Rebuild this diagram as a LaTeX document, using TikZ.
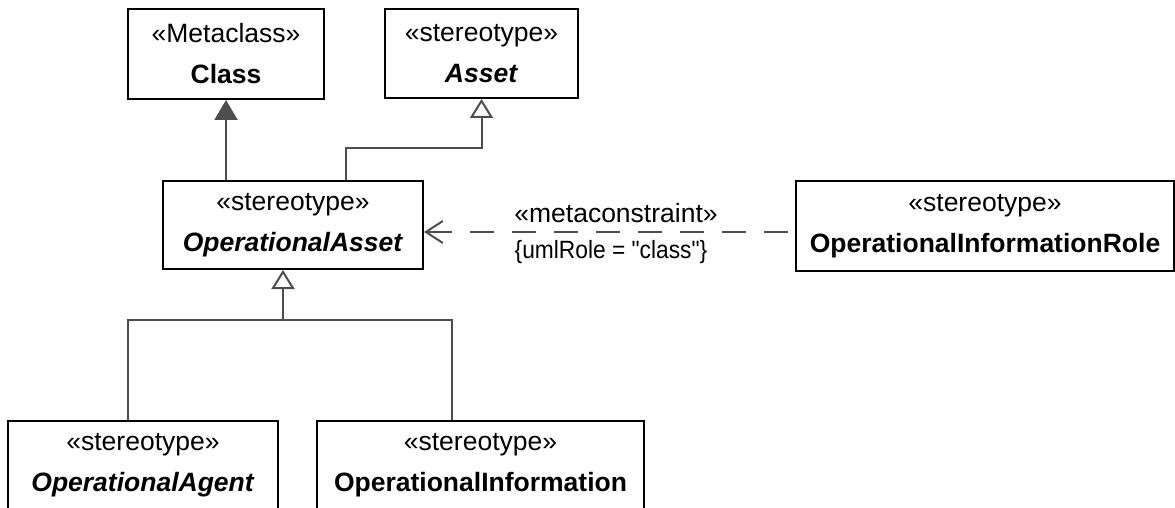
\documentclass[tikz,border=0pt]{standalone}
\usepackage{fontspec}
\setmainfont{Liberation Sans}
\usetikzlibrary{arrows.meta,calc}
\definecolor{linegray}{HTML}{4D4D4D}
\begin{document}
\begin{tikzpicture}[x=1pt,y=-1pt,
  umlbox/.style={draw=black, line width=2pt, fill=white, align=center, inner sep=0pt,
    font=\fontsize{26.5pt}{41pt}\selectfont},
  conn/.style={draw=linegray, line width=2pt},
  genfill/.style={-{Triangle[length=20pt,width=23pt]}},
  genopen/.style={-{Triangle[open,length=19pt,width=23pt]}},
  depend/.style={dash pattern=on 24pt off 18pt, dash phase=35pt,
    -{Straight Barb[length=17pt,width=22pt]}},
  lbl/.style={inner sep=0pt, font=\fontsize{26.5pt}{30pt}\selectfont},
  lblsmall/.style={inner sep=0pt, font=\fontsize{25pt}{28pt}\selectfont}
]
\useasboundingbox (0,0) rectangle (1175,508);
\clip (0,0) rectangle (1175,508);

\node[umlbox, minimum width=196pt, minimum height=90pt] (cls) at (226,54)
  {«Metaclass»\\\textbf{Class}};
\node[umlbox, minimum width=193pt, minimum height=89pt] (asset) at (481.5,53.5)
  {«stereotype»\\\textbf{\textit{Asset}}};
\node[umlbox, minimum width=260pt, minimum height=88pt] (oa) at (293,225)
  {«stereotype»\\\textbf{\textit{OperationalAsset}}};
\node[umlbox, minimum width=378pt, minimum height=90pt] (oir) at (985,226)
  {«stereotype»\\\textbf{OperationalInformationRole}};
\node[umlbox, minimum width=270pt, minimum height=88pt] (agent) at (143,465)
  {«stereotype»\\\textbf{\textit{OperationalAgent}}};
\node[umlbox, minimum width=327pt, minimum height=88pt] (oi) at (480.5,465)
  {«stereotype»\\\textbf{OperationalInformation}};

% OperationalAsset -> Class (filled triangle)
\draw[conn, genfill] (oa.north -| cls.south) -- (cls.south);
% OperationalAsset -> Asset (generalization)
\draw[conn, genopen] ([xshift=53pt]oa.north) -- ++(0,-32) -| (asset.south);
% children -> OperationalAsset
\draw[conn] ([xshift=-15pt]agent.north) -- ++(0,-100) -| ([xshift=-28.5pt]oi.north);
\coordinate (jn) at ([xshift=-10pt]oa.south |- 0,321);
\draw[conn, genopen] (jn) -- ([xshift=-10pt]oa.south);
% metaconstraint dependency
\coordinate (dstart) at ([yshift=-6pt]oir.west);
\draw[conn, depend] (dstart) -- (oa.east |- dstart);
\node[lbl] (mc) at (616,213) {«metaconstraint»};
\node[lblsmall] (ur) at (611,252)
  {\scalebox{0.91}[1]{\{umlRole = \textquotedbl class\textquotedbl\}}};
\end{tikzpicture}
\end{document}
